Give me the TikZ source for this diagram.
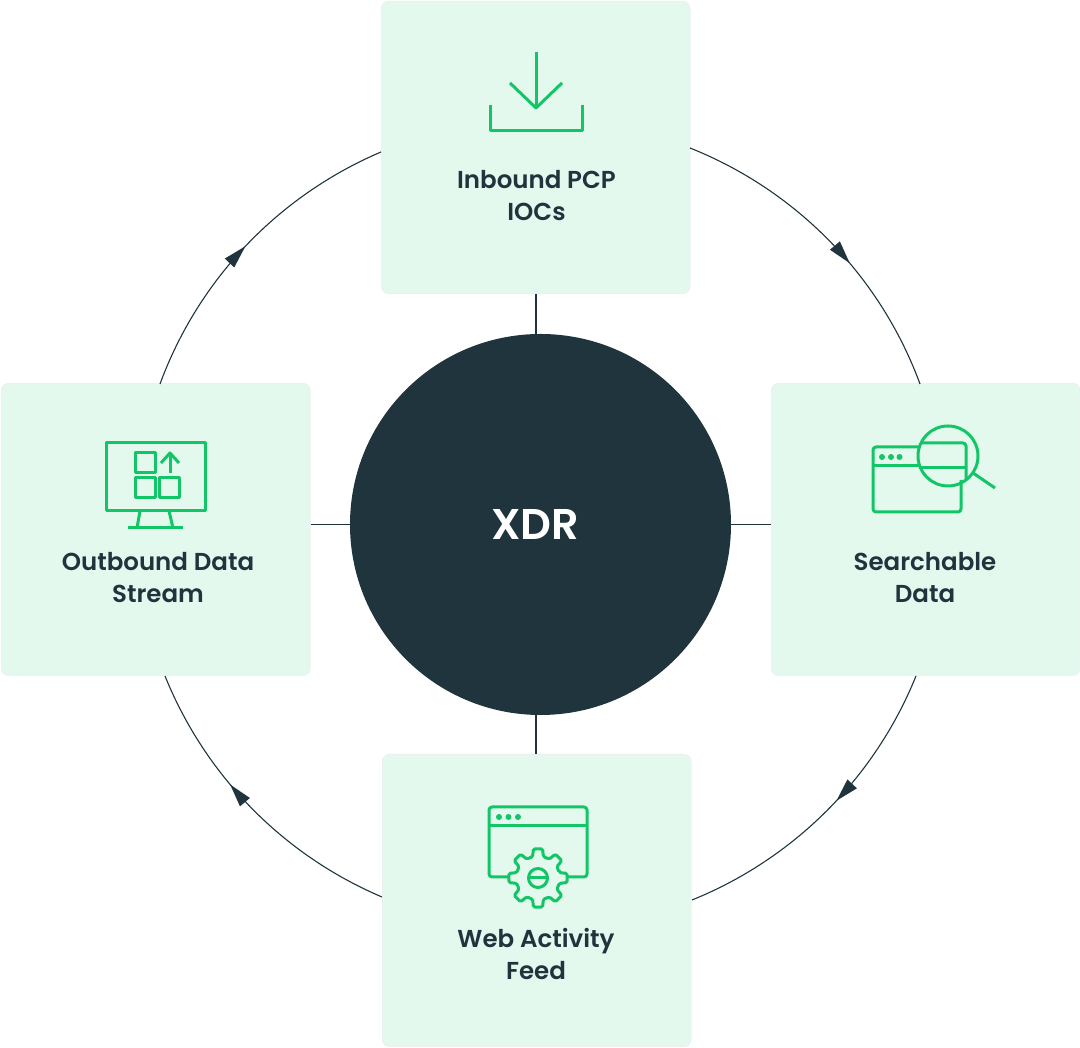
\documentclass[tikz,border=0pt]{standalone}
\usepackage{fontspec}
\setmainfont{Poppins}[UprightFont=* SemiBold]
\usetikzlibrary{decorations.markings}
\definecolor{ink}{HTML}{20343D}
\definecolor{boxfill}{HTML}{E3F9EE}
\definecolor{boxline}{HTML}{E9F2EE}
\definecolor{icon}{HTML}{12C667}
\tikzset{
  card/.style={draw=boxline,fill=boxfill,rounded corners=7pt,line width=1pt,minimum width=308.5pt,minimum height=292pt,inner sep=0pt,anchor=south west},
  hub/.style={circle,fill=ink,draw=none,minimum size=381pt,inner sep=0pt},
  hubtext/.style={text=white,inner sep=0pt,font=\fontsize{43}{50}\selectfont},
  lbl/.style={text=ink,align=center,font=\fontsize{24.5}{32}\selectfont,inner sep=0pt},
  link/.style={draw=ink,line width=1.1pt},
  ring/.style={draw=ink,line width=1.1pt,postaction={decorate},decoration={markings,mark=at position #1 with {\fill[ink] (0,0) -- (-23pt,6.5pt) -- (-23pt,-6.5pt) -- cycle;}}},
  ic/.style={draw=icon,line width=3pt,line join=round},
  icr/.style={draw=icon,line width=3pt,line join=round,rounded corners=3pt},
  dot/.style={fill=icon,draw=none}
}
\begin{document}
\begin{tikzpicture}[x=1pt,y=1pt]
\useasboundingbox (0,0) rectangle (1080,1048);
% cards
\node[card] (top) at (381,754) {};
\node[card] (right) at (771,372) {};
\node[card] (bottom) at (382,1) {};
\node[card] (left) at (1,372) {};
\node[hub] (xdr) at (540.5,523.5) {};
\node[hubtext] (xdrtext) at (535,523) {XDR};
% spokes
\coordinate (spt) at (536,714);
\coordinate (spb) at (536,333);
\draw[link] (top.south -| spt) -- (spt);
\draw[link] (right.west |- xdr.east) -- (xdr.east);
\draw[link] (left.east |- xdr.west) -- (xdr.west);
\draw[link] (bottom.north -| spb) -- (spb);
% ring
\coordinate (a1) at (690,900);
\coordinate (a2) at (920,664);
\coordinate (b1) at (916,372);
\coordinate (b2) at (692,148);
\coordinate (c1) at (382,151);
\coordinate (c2) at (165,372);
\coordinate (d1) at (160,664);
\coordinate (d2) at (381,896);
\draw[ring=0.586] (a1) to[out=-21.75,in=110.2,distance=114.8pt] (a2);
\draw[ring=0.457] (b1) to[out=-112,in=22,distance=109.9pt] (b2);
\draw[ring=0.60] (c1) to[out=157,in=-68,distance=107.4pt] (c2);
\draw[ring=0.495] (d1) to[out=69.8,in=203.1,distance=111.6pt] (d2);
% labels
\node[lbl] (t1) at (536.5,852) {Inbound PCP\\IOCs};
\node[lbl] (t2) at (925,470) {Searchable\\Data};
\node[lbl] (t3) at (536,94) {Web Activity\\Feed};
\node[lbl] (t4) at (158,470) {Outbound Data\\Stream};
% icons, in image coordinates
\begin{scope}[y=-1pt,yshift=1048pt]
% download
\draw[ic] (536,52) -- (536,108);
\draw[ic] (510,83) -- (536,108) -- (562,83);
\draw[ic] (490,105) -- (490,131) -- (582,131) -- (582,105);
% searchable
\draw[icr] (920,447) -- (873,447) -- (873,512) -- (961,512) -- (961,480);
\draw[ic] (873,466) -- (919,466);
\draw[icr] (921,443) -- (966,443) -- (966,479);
\draw[ic] (921,468) -- (966,468);
\draw[ic] (948,456) circle (30);
\draw[ic] (973,473) -- (995,488);
\fill[dot] (882,457) circle (3) (891,457) circle (3) (899.5,457) circle (3);
% web activity
\draw[icr] (508,877) -- (489,877) -- (489,807) -- (587,807) -- (587,877) -- (568,877);
\draw[ic] (489,826) -- (587,826);
\fill[dot] (499,817) circle (3) (508.5,817) circle (3) (518,817) circle (3);
\draw[ic,shift={(538,878)},rounded corners=1.5pt] (-14:22) \foreach \a in {0,45,...,315}{ -- ({\a-9}:29.5) -- ({\a+9}:29.5) -- ({\a+14}:22) -- ({\a+31}:22)} -- cycle;
\draw[ic] (538,878) circle (9.5);
\draw[ic] (529,878) -- (547,878);
% monitor
\draw[ic] (106,443) rectangle (205,511);
\draw[ic] (140,511) -- (137,528);
\draw[ic] (169,511) -- (173,528);
\draw[ic] (128,528) -- (183,528);
\draw[ic] (135,453) rectangle (155,473);
\draw[ic] (135,478) rectangle (155,498);
\draw[ic] (159,478) rectangle (179,498);
\draw[ic] (170,473) -- (170,453);
\draw[ic] (161,463) -- (170,453) -- (179,463);
\end{scope}
\end{tikzpicture}
\end{document}
